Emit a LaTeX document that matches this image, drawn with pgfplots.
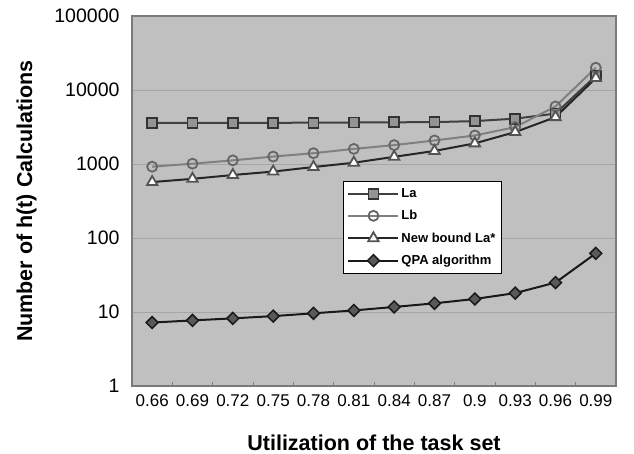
\documentclass[border=0pt]{standalone}
\usepackage{fontspec}
\setmainfont{Liberation Sans}
\usepackage{pgfplots}
\pgfplotsset{compat=1.18}
\definecolor{bg}{HTML}{C0C0C0}
\begin{document}
\begin{tikzpicture}
\useasboundingbox (0,0) rectangle (634pt,453pt);
\begin{axis}[
  at={(132pt,67pt)}, anchor=south west,
  width=484pt, height=370pt, scale only axis,
  xmin=-0.5, xmax=11.5,
  ymode=log, ymin=1, ymax=100000,
  yminorticks=false,
  xtick={0,...,11},
  xticklabels={0.66,0.69,0.72,0.75,0.78,0.81,0.84,0.87,0.9,0.93,0.96,0.99},
  minor xtick={0.5,1.5,...,10.5},
  ytick={1,10,100,1000,10000,100000},
  yticklabels={1,10,100,1000,10000,100000},
  major tick length=0pt,
  minor tick length=4pt,
  tick align=inside,
  xtick pos=bottom, ytick pos=left,
  ymajorgrids,
  major grid style={draw=black!35, line width=0.8pt},
  minor tick style={draw=black!50, line width=0.8pt},
  axis background/.style={fill=bg},
  axis line style={draw=black!52, line width=1.8pt},
  xticklabel style={font=\fontsize{17}{20}\selectfont, yshift=-5pt},
  yticklabel style={font=\fontsize{19.5}{23}\selectfont, xshift=-9pt},
  /pgf/number format/assume math mode=true,
  xlabel={Utilization of the task set},
  ylabel={Number of h(t) Calculations},
  every axis x label/.style={at={(axis description cs:0.5,-0.173)}, anchor=base, font=\bfseries\fontsize{21.5}{25}\selectfont},
  every axis y label/.style={at={(axis description cs:-0.2066,0.5)}, anchor=base, rotate=90, font=\bfseries\fontsize{21.5}{25}\selectfont},
  legend style={at={(axis description cs:0.436,0.554)}, anchor=north west, draw=black, line width=0.8pt, fill=white, font=\bfseries\fontsize{13}{15}\selectfont, inner xsep=4pt, inner ysep=5pt, row sep=7.5pt},
  legend cell align=left,
  legend image code/.code={\draw[mark repeat=2,mark phase=2] plot coordinates {(0pt,0pt)(25pt,0pt)(50pt,0pt)};},
]
\addplot[color=black!75, line width=2pt, mark=square*, mark size=5pt, mark options={fill=black!42, draw=black!80, line width=1.8pt}]
 coordinates {(0,3600)(1,3600)(2,3600)(3,3600)(4,3620)(5,3640)(6,3660)(7,3680)(8,3800)(9,4100)(10,4800)(11,15500)};
\addlegendentry{La}
\addplot[color=black!50, line width=2pt, mark=o, mark size=5pt, mark options={draw=black!60, line width=1.8pt}]
 coordinates {(0,920)(1,1010)(2,1120)(3,1260)(4,1400)(5,1600)(6,1800)(7,2080)(8,2430)(9,3150)(10,6000)(11,20000)};
\addlegendentry{Lb}
\addplot[color=black!85, line width=2pt, mark=triangle*, mark size=6pt, mark options={fill=white, draw=black!67, line width=1.8pt}]
 coordinates {(0,570)(1,630)(2,710)(3,790)(4,910)(5,1040)(6,1250)(7,1500)(8,1900)(9,2700)(10,4300)(11,14500)};
\addlegendentry{New bound La*}
\addplot[color=black!90, line width=2pt, mark=square*, mark size=4.2pt, mark options={rotate=45, fill=black!65, draw=black!90, line width=1.5pt}]
 coordinates {(0,7.2)(1,7.7)(2,8.2)(3,8.8)(4,9.6)(5,10.5)(6,11.7)(7,13.1)(8,15)(9,18)(10,25)(11,62)};
\addlegendentry{QPA algorithm}
\end{axis}
\end{tikzpicture}
\end{document}
